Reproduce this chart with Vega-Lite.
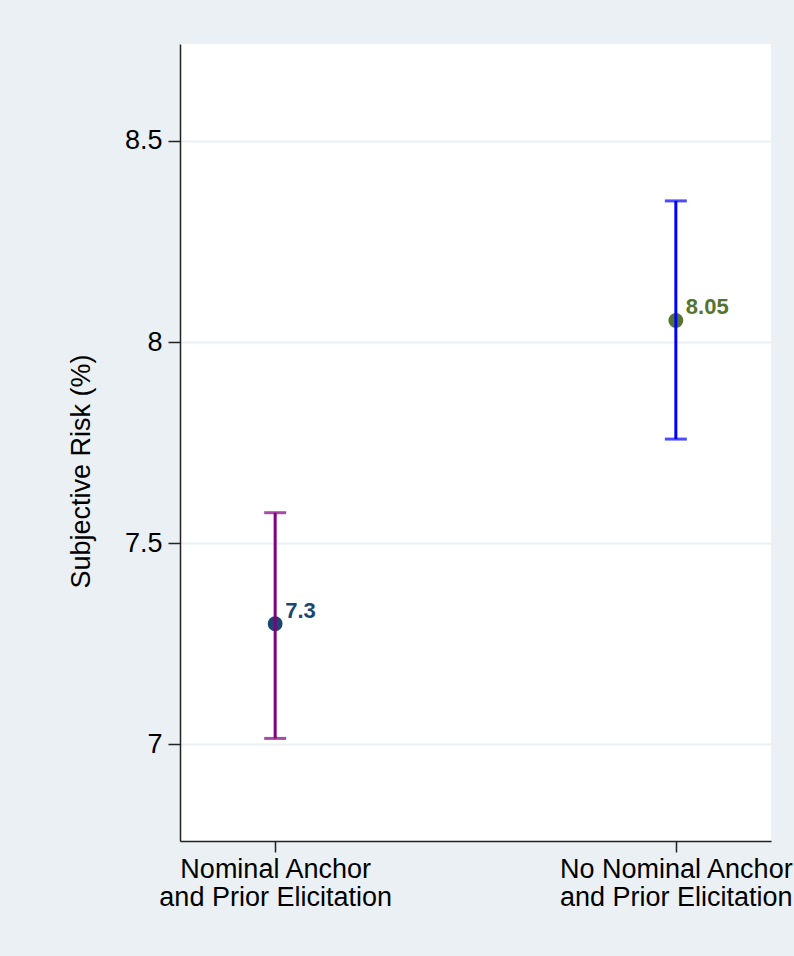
{
  "$schema": "https://vega.github.io/schema/vega-lite/v6.json",
  "width": 591,
  "height": 797,
  "autosize": {"type": "none"},
  "padding": {"left": 180, "top": 44, "right": 23, "bottom": 115},
  "background": "#eaf0f3",
  "config": {
    "font": "Liberation Sans",
    "view": {"stroke": null, "fill": "#ffffff"}
  },
  "data": {
    "values": [
      {"group": "Nominal Anchor|and Prior Elicitation", "mean": 7.3, "lo": 7.015, "hi": 7.576, "label": "7.3"},
      {"group": "No Nominal Anchor|and Prior Elicitation", "mean": 8.054, "lo": 7.759, "hi": 8.351, "label": "8.05"}
    ]
  },
  "encoding": {
    "x": {
      "field": "group",
      "type": "nominal",
      "sort": null,
      "scale": {"type": "point", "padding": 0.2375},
      "axis": {
        "title": null,
        "labelAngle": 0,
        "labelLimit": 0,
        "labelExpr": "split(datum.label, '|')",
        "labelFontSize": 27,
        "labelLineHeight": 28,
        "labelColor": "#000000",
        "labelPadding": 4,
        "tickSize": 11,
        "tickColor": "#222222",
        "tickWidth": 1.5,
        "domainColor": "#222222",
        "domainWidth": 1.5,
        "grid": false
      }
    }
  },
  "layer": [
    {
      "mark": {"type": "circle", "size": 220, "opacity": 1},
      "encoding": {
        "y": {
          "field": "mean",
          "type": "quantitative",
          "scale": {"domain": [6.76, 8.741], "zero": false, "nice": false},
          "axis": {
            "title": "Subjective Risk (%)",
            "titleFontSize": 27,
            "titleFontWeight": "normal",
            "titleColor": "#000000",
            "titleX": -99,
            "titleY": 427,
            "titleBaseline": "middle",
            "values": [7, 7.5, 8, 8.5],
            "format": "~g",
            "labelFontSize": 27,
            "labelColor": "#000000",
            "labelPadding": 6,
            "tickSize": 12,
            "tickColor": "#222222",
            "tickWidth": 1.5,
            "domainColor": "#222222",
            "domainWidth": 1.5,
            "grid": true,
            "gridColor": "#eaf0f3",
            "gridWidth": 2
          }
        },
        "color": {
          "field": "group",
          "type": "nominal",
          "sort": null,
          "scale": {"range": ["#1a476f", "#55752f"]},
          "legend": null
        }
      }
    },
    {
      "mark": {"type": "rule", "strokeWidth": 3},
      "encoding": {
        "y": {"field": "lo", "type": "quantitative"},
        "y2": {"field": "hi"},
        "stroke": {
          "field": "group",
          "type": "nominal",
          "sort": null,
          "scale": {"range": ["#800080", "#0000ff"]},
          "legend": null
        }
      }
    },
    {
      "mark": {"type": "tick", "orient": "horizontal", "size": 22, "thickness": 3},
      "encoding": {
        "y": {"field": "lo", "type": "quantitative"},
        "color": {
          "field": "group",
          "type": "nominal",
          "sort": null,
          "scale": {"range": ["#800080", "#0000ff"]},
          "legend": null
        }
      }
    },
    {
      "mark": {"type": "tick", "orient": "horizontal", "size": 22, "thickness": 3},
      "encoding": {
        "y": {"field": "hi", "type": "quantitative"},
        "color": {
          "field": "group",
          "type": "nominal",
          "sort": null,
          "scale": {"range": ["#800080", "#0000ff"]},
          "legend": null
        }
      }
    },
    {
      "mark": {"type": "text", "align": "left", "baseline": "alphabetic", "dx": 10, "dy": -6, "fontSize": 22, "fontWeight": "bold"},
      "encoding": {
        "y": {"field": "mean", "type": "quantitative"},
        "text": {"field": "label"},
        "color": {
          "field": "group",
          "type": "nominal",
          "sort": null,
          "scale": {"range": ["#1a476f", "#55752f"]},
          "legend": null
        }
      }
    }
  ],
  "resolve": {"scale": {"color": "independent", "stroke": "independent"}}
}
